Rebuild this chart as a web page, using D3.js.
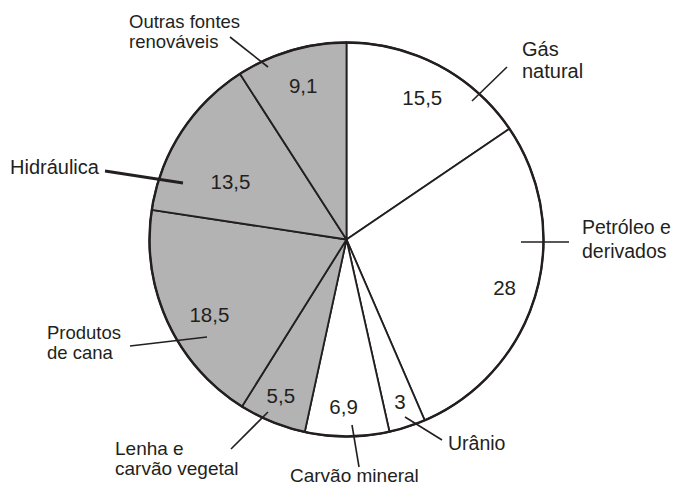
<!DOCTYPE html>
<html>
<head>
<meta charset="utf-8">
<script src="https://cdn.jsdelivr.net/npm/d3@7"></script>
<style>
  html, body { margin: 0; padding: 0; background: #fff; }
  svg { display: block; }
  text { font-family: "Liberation Sans", Arial, sans-serif; fill: #231f20; }
</style>
</head>
<body>
<svg id="chart" width="673" height="486"></svg>
<script>
// ---- data ----
const categories = ["Gás natural", "Petróleo e derivados", "Urânio", "Carvão mineral",
  "Lenha e carvão vegetal", "Produtos de cana", "Hidráulica", "Outras fontes renováveis"];
const values = [15.5, 28, 3, 6.9, 5.5, 18.5, 13.5, 9.1];
const valueLabels = ["15,5", "28", "3", "6,9", "5,5", "18,5", "13,5", "9,1"];
const renewable = [false, false, false, false, true, true, true, true];
const labelLines = [["Gás", "natural"], ["Petróleo e", "derivados"], ["Urânio"], ["Carvão mineral"],
  ["Lenha e", "carvão vegetal"], ["Produtos", "de cana"], ["Hidráulica"], ["Outras fontes", "renováveis"]];

// ---- layout (positions only) ----
const cx = 346.5, cy = 239.5, R = 197;
// value label polar position: [angle in degrees clockwise from top, radius]
const valuePolar = [[27.9, 162], [106.7, 165], [161.7, 170], [181, 166], [203, 168], [241.5, 156], [296.8, 130], [344.4, 161]];
// category label: x, first baseline, line spacing, font size
const labelPos = [[522, 56, 22, 20], [582, 234, 24, 19.5], [448, 450, 0, 19.5], [290, 482, 0, 19],
  [115, 455, 20, 19], [47, 339, 20, 18.5], [10, 174, 0, 20], [129, 28, 20, 18.5]];
// leader lines: [x1,y1,x2,y2,width]
const leaders = [[472, 101, 507, 67, 1.6], [521, 242, 569, 242, 1.6], [405, 417, 442, 440, 1.6], [352, 425, 359, 467, 1.6],
  [268, 412, 231, 449, 1.6], [207, 337, 130, 346, 1.6], [183, 183, 105, 171, 2.8], [268, 67, 230, 37, 1.6]];

const ink = "#231f20";
const svg = d3.select("#chart");
const g = svg.append("g").attr("transform", `translate(${cx},${cy})`);

const pie = d3.pie().sort(null).value(d => d.v);
const data = values.map((v, i) => ({ v, i }));
const arcs = pie(data);
const arc = d3.arc().innerRadius(0).outerRadius(R);

g.selectAll("path.slice").data(arcs).join("path")
  .attr("class", "slice")
  .attr("d", arc)
  .attr("fill", d => renewable[d.data.i] ? "#b3b3b3" : "#ffffff")
  .attr("stroke", ink)
  .attr("stroke-width", 1.8)
  .attr("stroke-linejoin", "round");

g.append("circle").attr("r", R).attr("fill", "none").attr("stroke", ink).attr("stroke-width", 2.4);

// value labels
g.selectAll("text.val").data(arcs).join("text")
  .attr("class", "val")
  .attr("text-anchor", "middle")
  .attr("dominant-baseline", "central")
  .attr("font-size", 20.5)
  .attr("x", d => { const [a, r] = valuePolar[d.data.i]; return r * Math.sin(a * Math.PI / 180); })
  .attr("y", d => { const [a, r] = valuePolar[d.data.i]; return -r * Math.cos(a * Math.PI / 180) + 1; })
  .text(d => valueLabels[d.data.i]);

// leaders
svg.selectAll("line.leader").data(leaders).join("line")
  .attr("class", "leader")
  .attr("x1", d => d[0]).attr("y1", d => d[1])
  .attr("x2", d => d[2]).attr("y2", d => d[3])
  .attr("stroke", ink).attr("stroke-width", d => d[4]);

// category labels
categories.forEach((c, i) => {
  const [x, y, dy, fs] = labelPos[i];
  const t = svg.append("text").attr("font-size", fs).attr("x", x).attr("y", y);
  labelLines[i].forEach((line, k) => {
    t.append("tspan").attr("x", x).attr("y", y + k * dy).text(line);
  });
});
</script>
</body>
</html>
